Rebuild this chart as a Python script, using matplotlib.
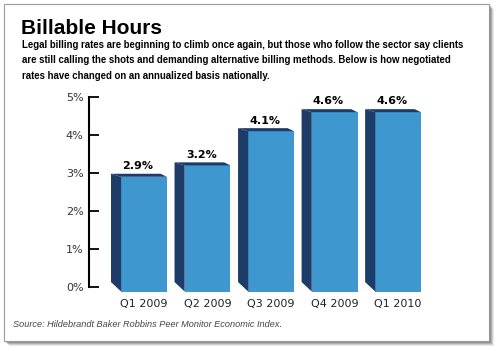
import matplotlib.pyplot as plt
from matplotlib.patches import Polygon, Rectangle

quarters = ["Q1 2009", "Q2 2009", "Q3 2009", "Q4 2009", "Q1 2010"]
rates = [2.9, 3.2, 4.1, 4.6, 4.6]
rate_labels = ["2.9%", "3.2%", "4.1%", "4.6%", "4.6%"]
yticks = [0, 1, 2, 3, 4, 5]
ytick_labels = ["0%", "1%", "2%", "3%", "4%", "5%"]

front = "#3f97d0"
side = "#1e3c68"
narrow = ["Liberation Sans Narrow", "Liberation Sans", "DejaVu Sans"]

fig = plt.figure(figsize=(5.0, 3.51), dpi=100)
W, H = 500, 351

# card with drop shadow
for i, a in enumerate([0.12, 0.18, 0.25, 0.35]):
    off = 5 - i
    fig.patches.append(Rectangle(((4 + off) / W, 1 - (341 + off) / H), 485 / W, 337 / H,
                                 transform=fig.transFigure, facecolor="#555555", alpha=a,
                                 edgecolor="none", zorder=-3))
fig.patches.append(Rectangle((4 / W, 1 - 341 / H), 485 / W, 337 / H,
                             transform=fig.transFigure, facecolor="white",
                             edgecolor="#9a9a9a", linewidth=0.8, zorder=-2))

fig.text(21 / W, 1 - 34 / H, "Billable Hours", family=narrow, fontweight="bold",
         fontsize=15, color="black", va="baseline")
sub = ("Legal billing rates are beginning to climb once again, but those who follow the sector say clients\n"
       "are still calling the shots and demanding alternative billing methods. Below is how negotiated\n"
       "rates have changed on an annualized basis nationally.")
fig.text(22 / W, 1 - 40 / H, sub, family=narrow, fontweight="bold", fontsize=6.95,
         color="black", va="top", linespacing=1.68)
fig.text(13 / W, 1 - 327 / H, "Source: Hildebrandt Baker Robbins Peer Monitor Economic Index.",
         family=narrow, style="italic", fontsize=6.6, color="#444444", va="baseline")

ax = fig.add_axes([89 / W, (351 - 287) / H, 360 / W, 190 / H])
ax.set_facecolor("none")
x = list(range(len(quarters)))
bw = 0.72
bottom = -0.12
bars = ax.bar(x, [r - bottom for r in rates], bottom=bottom, width=bw, color=front,
              edgecolor="none", clip_on=False, zorder=3)

dx = 0.16
for b, r, lab in zip(bars, rates, rate_labels):
    x0 = b.get_x()
    x1 = x0 + b.get_width()
    ax.add_patch(Polygon([(x0 - dx, bottom + 0.25), (x0 - dx, r + 0.08), (x0, r), (x0, bottom)],
                         closed=True, facecolor=side, edgecolor="none", clip_on=False, zorder=3))
    ax.add_patch(Polygon([(x0 - dx, r + 0.08), (x1 - 0.1, r + 0.08), (x1, r), (x0, r)],
                         closed=True, facecolor=side, edgecolor="none", clip_on=False, zorder=3))
    ax.text(b.get_x() + b.get_width() / 2 - 0.1, r + 0.15, lab, ha="center", va="bottom",
            fontsize=8, fontweight="bold", color="black")

ax.set_xlim(-0.866, 4.8)
ax.set_ylim(0, 5)
ax.set_yticks(yticks)
ax.set_yticklabels(ytick_labels)
ax.set_xticks(x)
ax.set_xticklabels(quarters)
ax.tick_params(axis="y", direction="in", length=7, width=1.3, labelsize=8,
               labelcolor="#333333", pad=4)
ax.tick_params(axis="x", length=0, labelsize=8, labelcolor="#222222", pad=9)
for s in ["top", "right", "bottom"]:
    ax.spines[s].set_visible(False)
ax.spines["left"].set_linewidth(1.5)

fig.savefig("out.png", dpi=100)
